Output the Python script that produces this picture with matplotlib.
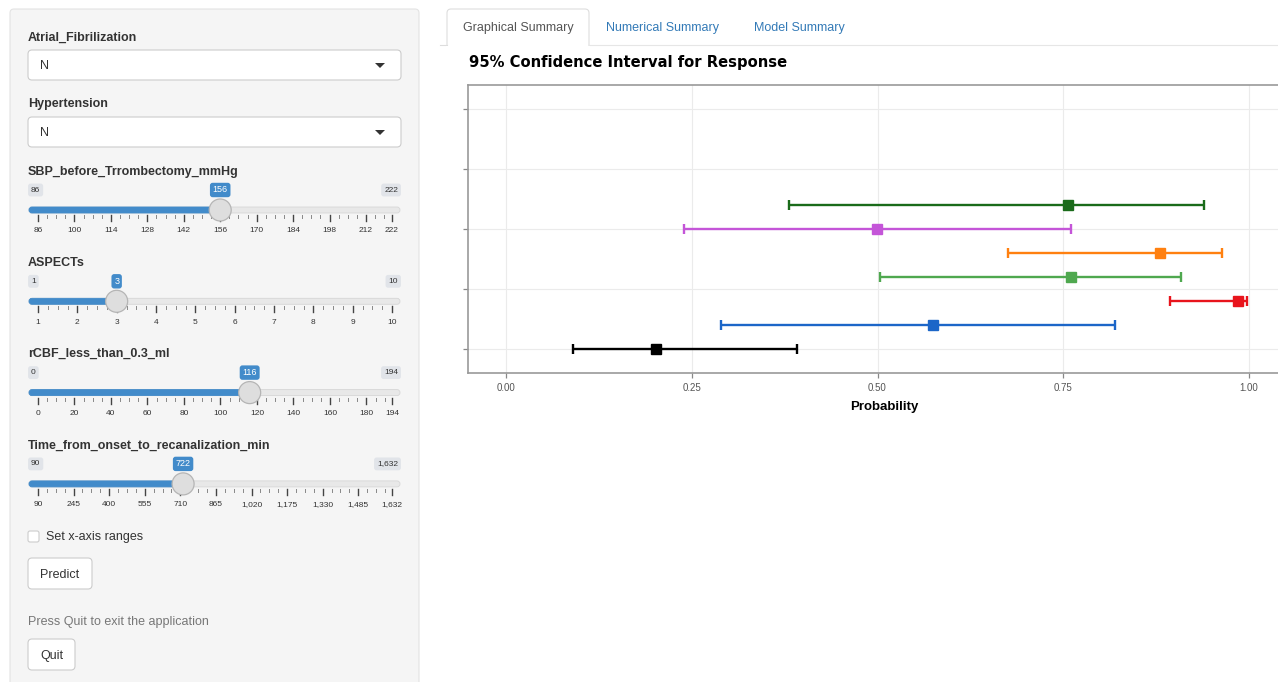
import matplotlib
matplotlib.use('Agg')
import matplotlib.pyplot as plt
from matplotlib.patches import FancyBboxPatch, Rectangle, Circle, Polygon
import numpy as np

plt.rcParams['font.family'] = ['Liberation Sans', 'DejaVu Sans']

# ---- data -------------------------------------------------------------
ci_y = [1, 2, 3, 4, 5, 6, 7]
ci_mid = [0.202, 0.575, 0.985, 0.760, 0.880, 0.499, 0.757]
ci_low = [0.090, 0.289, 0.894, 0.504, 0.676, 0.240, 0.381]
ci_high = [0.392, 0.819, 0.997, 0.908, 0.963, 0.760, 0.940]
ci_colors = ['#000000', '#1c66c8', '#e8141c', '#4fa84f', '#ff8010', '#c455d8', '#1a6b1a']

x_ticks = [0.0, 0.25, 0.5, 0.75, 1.0]
x_ticklabels = ['0.00', '0.25', '0.50', '0.75', '1.00']
y_ticks = [1, 3.5, 6, 8.5, 11]

select_labels = ['Atrial_Fibrilization', 'Hypertension']
select_values = ['N', 'N']

slider_labels = ['SBP_before_Trrombectomy_mmHg', 'ASPECTs',
                 'rCBF_less_than_0.3_ml', 'Time_from_onset_to_recanalization_min']
slider_min = [86, 1, 0, 90]
slider_max = [222, 10, 194, 1632]
slider_value = [156, 3, 116, 722]
slider_ticks = [
    [86, 100, 114, 128, 142, 156, 170, 184, 198, 212, 222],
    [1, 2, 3, 4, 5, 6, 7, 8, 9, 10],
    [0, 20, 40, 60, 80, 100, 120, 140, 160, 180, 194],
    [90, 245, 400, 555, 710, 865, 1020, 1175, 1330, 1485, 1632],
]
tab_labels = ['Graphical Summary', 'Numerical Summary', 'Model Summary']

W, H = 1278, 682
fig = plt.figure(figsize=(W / 100, H / 100), dpi=100)
fig.patch.set_facecolor('white')

# overlay in pixel coordinates for the app widgets
ui = fig.add_axes([0, 0, 1, 1])
ui.set_xlim(0, W)
ui.set_ylim(H, 0)
ui.axis('off')

BLUE = '#428bca'

def rbox(x, y, w, h, fc, ec, r=4, lw=0.8, z=1):
    ui.add_patch(FancyBboxPatch((x, y), w, h, boxstyle='round,pad=0,rounding_size=%g' % r,
                                fc=fc, ec=ec, lw=lw, zorder=z))

# sidebar panel
rbox(10, 9, 409, 700, '#f5f5f5', '#e3e3e3', r=4)

# select inputs
for i, (lab, val) in enumerate(zip(select_labels, select_values)):
    y0 = 36 + i * 67
    ui.text(28, y0 + 1.5, lab, fontsize=9, fontweight='bold', color='#333333', va='center')
    rbox(28, y0 + 14, 373, 30, 'white', '#cccccc', r=4)
    ui.text(40, y0 + 30, val, fontsize=9, color='#333333', va='center')
    ui.add_patch(Polygon([[375, y0 + 27], [385, y0 + 27], [380, y0 + 32]],
                         closed=True, fc='#333333', ec='none', zorder=3))

# sliders
X0, X1 = 38, 392
for i in range(len(slider_labels)):
    y0 = 170 + i * 91.3
    vmin, vmax, val = slider_min[i], slider_max[i], slider_value[i]
    pos = lambda v: X0 + (v - vmin) / (vmax - vmin) * (X1 - X0)
    ui.text(28, y0 + 1.5, slider_labels[i], fontsize=9, fontweight='bold', color='#333333', va='center')
    ty = y0 + 40
    fmt = lambda v: '{:,}'.format(v)
    # min / max labels
    ui.text(31, y0 + 20, fmt(vmin), fontsize=6, color='#333333', va='center', ha='left',
            bbox=dict(boxstyle='round,pad=0.35,rounding_size=0.3', fc='#e1e4e9', ec='none'), zorder=3)
    ui.text(398, y0 + 20, fmt(vmax), fontsize=6, color='#333333', va='center', ha='right',
            bbox=dict(boxstyle='round,pad=0.35,rounding_size=0.3', fc='#e1e4e9', ec='none'), zorder=3)
    # track
    rbox(29, ty - 3, 371, 6, '#e8e8e8', '#d6d6d6', r=3, lw=0.6, z=2)
    hx = pos(val)
    rbox(29, ty - 3, hx - 29, 6, BLUE, BLUE, r=3, lw=0.6, z=3)
    # grid ticks
    tks = slider_ticks[i]
    step = tks[1] - tks[0]
    for t in tks:
        ui.plot([pos(t), pos(t)], [ty + 5, ty + 11], color='#444444', lw=1.0, zorder=2)
        ui.text(pos(t), ty + 21, fmt(t), fontsize=6, color='#333333', ha='center', va='center')
    for a in tks[:-1]:
        for k in (1, 2, 3):
            m = a + step * k / 4
            if m < vmax:
                ui.plot([pos(m), pos(m)], [ty + 5, ty + 8], color='#888888', lw=0.7, zorder=2)
    # handle and value bubble
    ui.add_patch(Circle((hx, ty), 11, fc='#dedede', ec='#b5b5b5', lw=0.9, zorder=5))
    ui.text(hx, y0 + 20, fmt(val), fontsize=6.5, color='white', ha='center', va='center',
            bbox=dict(boxstyle='round,pad=0.3,rounding_size=0.3', fc=BLUE, ec='none'), zorder=6)

# checkbox and buttons
rbox(28, 531, 11, 11, 'white', '#cccccc', r=2)
ui.text(46, 537, 'Set x-axis ranges', fontsize=9, color='#333333', va='center')
rbox(28, 558, 64, 31, 'white', '#cccccc', r=4)
ui.text(60, 575, 'Predict', fontsize=9, color='#333333', va='center', ha='center')
ui.text(28, 622, 'Press Quit to exit the application', fontsize=9, color='#777777', va='center')
rbox(28, 639, 47, 31, 'white', '#cccccc', r=4)
ui.text(51.5, 656, 'Quit', fontsize=9, color='#333333', va='center', ha='center')

# tabs
ui.plot([440, 447], [45, 45], color='#dddddd', lw=0.8)
ui.plot([589, W], [45, 45], color='#e6e6e6', lw=0.8)
rbox(447, 9, 142, 44, 'white', '#dddddd', r=4)
ui.add_patch(Rectangle((446, 45.5), 144, 10, fc='white', ec='none', zorder=2))
tab_x = [518, 663, 799]
for j, (t, tx) in enumerate(zip(tab_labels, tab_x)):
    ui.text(tx, 28, t, fontsize=9, color='#555555' if j == 0 else '#337ab7',
            ha='center', va='center', zorder=3)

ui.text(469, 62, '95% Confidence Interval for Response', fontsize=10.6, fontweight='bold',
        family='DejaVu Sans', color='black', va='center')

# ---- CI plot ----------------------------------------------------------
left, right, top, bottom = 468, 1300, 85, 373
ax = fig.add_axes([left / W, 1 - bottom / H, (right - left) / W, (bottom - top) / H])
ax.set_xlim(-(506 - left) / 743, (right - 506) / 743)
ax.set_ylim(0, 12)
for i in range(len(ci_y)):
    ax.errorbar(ci_mid[i], ci_y[i],
                xerr=[[ci_mid[i] - ci_low[i]], [ci_high[i] - ci_mid[i]]],
                fmt='s', color=ci_colors[i], ecolor=ci_colors[i], elinewidth=1.7,
                capsize=3.3, capthick=1.7, markersize=6.5, zorder=3)
ax.set_xticks(x_ticks)
ax.set_xticklabels(x_ticklabels, fontsize=7, color='#555555')
ax.set_yticks(y_ticks)
ax.set_yticklabels([])
ax.grid(True, color='#ebebeb', lw=0.8)
ax.set_axisbelow(True)
ax.tick_params(axis='both', color='#888888', length=3.5, width=0.9)
for s in ax.spines.values():
    s.set_color('#999999')
    s.set_linewidth(1.2)
ax.set_xlabel('Probability', fontsize=9.5, fontweight='bold', labelpad=6)

plt.savefig('out.png', dpi=100)
